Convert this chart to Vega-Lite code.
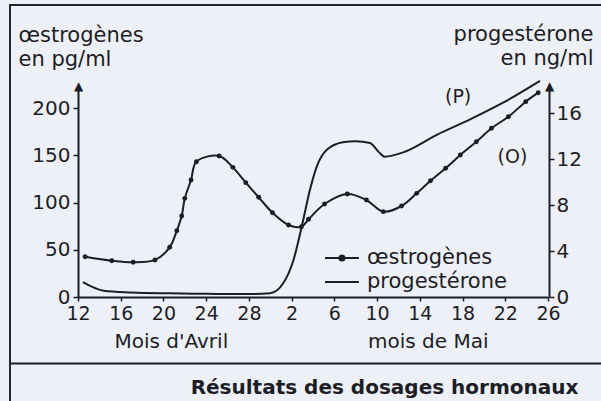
{
  "$schema": "https://vega.github.io/schema/vega-lite/v6.json",
  "width": 592,
  "height": 397,
  "autosize": {"type": "none"},
  "padding": {"left": 10, "top": 5, "right": -1, "bottom": -1},
  "background": "#edf0f6",
  "datasets": {
    "oestrogenes": [
      {"date": "2024-04-12T16:00Z", "pg_ml": 42.6},
      {"date": "2024-04-15T04:00Z", "pg_ml": 38.4},
      {"date": "2024-04-17T04:00Z", "pg_ml": 36.7},
      {"date": "2024-04-19T05:00Z", "pg_ml": 39.2},
      {"date": "2024-04-20T14:00Z", "pg_ml": 52.6},
      {"date": "2024-04-21T06:00Z", "pg_ml": 70.2},
      {"date": "2024-04-21T17:00Z", "pg_ml": 85.7},
      {"date": "2024-04-22T00:00Z", "pg_ml": 104.4},
      {"date": "2024-04-22T14:00Z", "pg_ml": 123.8},
      {"date": "2024-04-23T02:00Z", "pg_ml": 143.2},
      {"date": "2024-04-25T05:00Z", "pg_ml": 149.2},
      {"date": "2024-04-26T12:00Z", "pg_ml": 137.2},
      {"date": "2024-04-27T17:00Z", "pg_ml": 121.0},
      {"date": "2024-04-28T22:00Z", "pg_ml": 105.5},
      {"date": "2024-04-30T05:00Z", "pg_ml": 89.2},
      {"date": "2024-05-01T17:00Z", "pg_ml": 76.2},
      {"date": "2024-05-02T22:00Z", "pg_ml": 74.4},
      {"date": "2024-05-03T14:00Z", "pg_ml": 82.2},
      {"date": "2024-05-05T02:00Z", "pg_ml": 98.4},
      {"date": "2024-05-07T05:00Z", "pg_ml": 109.0},
      {"date": "2024-05-09T00:00Z", "pg_ml": 102.6},
      {"date": "2024-05-10T14:00Z", "pg_ml": 90.3},
      {"date": "2024-05-12T07:00Z", "pg_ml": 96.3},
      {"date": "2024-05-13T17:00Z", "pg_ml": 109.7},
      {"date": "2024-05-15T00:00Z", "pg_ml": 123.0},
      {"date": "2024-05-16T10:00Z", "pg_ml": 136.2},
      {"date": "2024-05-17T19:00Z", "pg_ml": 150.3},
      {"date": "2024-05-19T07:00Z", "pg_ml": 164.3},
      {"date": "2024-05-20T17:00Z", "pg_ml": 178.5},
      {"date": "2024-05-22T07:00Z", "pg_ml": 190.8},
      {"date": "2024-05-23T22:00Z", "pg_ml": 206.7},
      {"date": "2024-05-25T02:00Z", "pg_ml": 216.2}
    ],
    "progesterone": [
      {"date": "2024-04-12T11:00Z", "ng_ml": 1.3},
      {"date": "2024-04-14T10:00Z", "ng_ml": 0.55},
      {"date": "2024-04-17T00:00Z", "ng_ml": 0.4},
      {"date": "2024-04-20T14:00Z", "ng_ml": 0.32},
      {"date": "2024-04-24T00:00Z", "ng_ml": 0.28},
      {"date": "2024-04-28T10:00Z", "ng_ml": 0.26},
      {"date": "2024-04-30T00:00Z", "ng_ml": 0.33},
      {"date": "2024-05-01T05:00Z", "ng_ml": 1.19},
      {"date": "2024-05-02T04:00Z", "ng_ml": 3.2},
      {"date": "2024-05-03T02:00Z", "ng_ml": 6.7},
      {"date": "2024-05-03T17:00Z", "ng_ml": 9.3},
      {"date": "2024-05-04T08:00Z", "ng_ml": 11.3},
      {"date": "2024-05-05T07:00Z", "ng_ml": 12.8},
      {"date": "2024-05-06T19:00Z", "ng_ml": 13.45},
      {"date": "2024-05-08T00:00Z", "ng_ml": 13.55},
      {"date": "2024-05-09T08:00Z", "ng_ml": 13.4},
      {"date": "2024-05-10T04:00Z", "ng_ml": 12.6},
      {"date": "2024-05-10T17:00Z", "ng_ml": 12.2},
      {"date": "2024-05-12T12:00Z", "ng_ml": 12.6},
      {"date": "2024-05-15T14:00Z", "ng_ml": 14.1},
      {"date": "2024-05-18T17:00Z", "ng_ml": 15.45},
      {"date": "2024-05-21T19:00Z", "ng_ml": 16.9},
      {"date": "2024-05-25T06:00Z", "ng_ml": 18.8}
    ],
    "reperes": [
      {"texte": "(P)", "date": "2024-05-17T14:00Z", "ng_ml": 17.4},
      {"texte": "(O)", "date": "2024-05-22T16:00Z", "ng_ml": 12.2}
    ]
  },
  "layer": [
    {
      "encoding": {
        "x": {
          "field": "date",
          "type": "temporal",
          "scale": {
            "type": "utc",
            "nice": false,
            "domain": [
              {"year": 2024, "month": 4, "date": 12, "utc": true},
              {"year": 2024, "month": 5, "date": 26, "utc": true}
            ],
            "rangeMin": 68,
            "rangeMax": 538
          },
          "axis": {
            "orient": "bottom",
            "offset": -105,
            "values": [
              {"year": 2024, "month": 4, "date": 12, "utc": true},
              {"year": 2024, "month": 4, "date": 16, "utc": true},
              {"year": 2024, "month": 4, "date": 20, "utc": true},
              {"year": 2024, "month": 4, "date": 24, "utc": true},
              {"year": 2024, "month": 4, "date": 28, "utc": true},
              {"year": 2024, "month": 5, "date": 2, "utc": true},
              {"year": 2024, "month": 5, "date": 6, "utc": true},
              {"year": 2024, "month": 5, "date": 10, "utc": true},
              {"year": 2024, "month": 5, "date": 14, "utc": true},
              {"year": 2024, "month": 5, "date": 18, "utc": true},
              {"year": 2024, "month": 5, "date": 22, "utc": true},
              {"year": 2024, "month": 5, "date": 26, "utc": true}
            ],
            "labelExpr": "utcFormat(datum.value, '%-d')",
            "domain": true,
            "domainWidth": 2,
            "tickSize": 4,
            "labelPadding": 3,
            "labelFontSize": 19,
            "labelOverlap": false,
            "labelFlush": false,
            "title": "Mois d'Avril\u00a0\u00a0\u00a0\u00a0\u00a0\u00a0\u00a0\u00a0\u00a0\u00a0\u00a0\u00a0\u00a0\u00a0\u00a0\u00a0\u00a0\u00a0\u00a0\u00a0\u00a0\u00a0mois de Mai",
            "titleFontSize": 20,
            "titleX": 291,
            "titleY": 50,
            "titleBaseline": "alphabetic"
          }
        },
        "y": {
          "field": "pg_ml",
          "type": "quantitative",
          "scale": {"domain": [0, 224], "nice": false, "zero": false, "rangeMin": 292, "rangeMax": 80.32},
          "axis": {
            "orient": "left",
            "offset": -68,
            "values": [0, 50, 100, 150, 200, 224],
            "labelExpr": "datum.value > 210 ? '▲' : datum.label",
            "domain": true,
            "domainWidth": 2,
            "tickSize": {"condition": {"test": "datum.value > 210", "value": 0}, "value": 5},
            "labelPadding": {"condition": {"test": "datum.value > 210", "value": 0}, "value": 3},
            "labelAlign": {"condition": {"test": "datum.value > 210", "value": "center"}, "value": "right"},
            "labelFontSize": {"condition": {"test": "datum.value > 210", "value": 12}, "value": 20},
            "labelOverlap": false,
            "labelFlush": false,
            "title": ["œstrogènes", "en pg/ml"],
            "titleAngle": 0,
            "titleAlign": "left",
            "titleBaseline": "alphabetic",
            "titleX": -60,
            "titleY": 36,
            "titleFontSize": 21,
            "titleLineHeight": 24
          }
        },
        "color": {
          "datum": "œstrogènes",
          "scale": {"domain": ["œstrogènes", "progestérone"], "range": ["#1d1d26", "#1d1d26"]},
          "legend": {
            "orient": "none",
            "legendX": 321.5,
            "legendY": 242.5,
            "title": null,
            "symbolSize": 289,
            "symbolStrokeWidth": 2,
            "labelFontSize": 21,
            "labelOffset": 14.5,
            "rowPadding": 2,
            "labelColor": "#1d1d26",
            "encode": {
              "symbols": {
                "update": {
                  "shape": {"signal": "datum.value === 'œstrogènes' ? 'M-2,0H2M-0.3,0A0.3,0.3,0,1,0,0.3,0A0.3,0.3,0,1,0,-0.3,0' : 'M-2,0H2'"},
                  "fill": {"signal": "datum.value === 'œstrogènes' ? '#1d1d26' : 'transparent'"},
                  "stroke": {"value": "#1d1d26"},
                  "opacity": {"value": 1}
                }
              }
            }
          }
        }
      },
      "layer": [
        {"data": {"name": "oestrogenes"}, "mark": {"type": "line", "interpolate": "catmull-rom", "strokeWidth": 2}},
        {"data": {"name": "oestrogenes"}, "mark": {"type": "point", "filled": true, "size": 24, "opacity": 1}}
      ]
    },
    {
      "encoding": {
        "x": {
          "field": "date",
          "type": "temporal",
          "scale": {
            "type": "utc",
            "nice": false,
            "domain": [
              {"year": 2024, "month": 4, "date": 5, "hours": 15, "minutes": 13, "utc": true},
              {"year": 2024, "month": 5, "date": 31, "hours": 1, "minutes": 18, "utc": true}
            ]
          },
          "axis": {
            "orient": "bottom",
            "offset": -39,
            "domain": true,
            "domainWidth": 2,
            "ticks": false,
            "labels": false,
            "title": "Résultats des dosages hormonaux",
            "titleFontSize": 20,
            "titleFontWeight": "bold",
            "titleX": 374,
            "titleY": 30,
            "titleBaseline": "alphabetic"
          }
        },
        "y": {
          "field": "ng_ml",
          "type": "quantitative",
          "scale": {"domain": [0, 18.41], "nice": false, "zero": false, "rangeMin": 292, "rangeMax": 80.32},
          "axis": {
            "orient": "right",
            "offset": -53,
            "values": [0, 4, 8, 12, 16, 18.41],
            "labelExpr": "datum.value > 17.5 ? '▲' : datum.label",
            "domain": true,
            "domainWidth": 2,
            "tickSize": {"condition": {"test": "datum.value > 17.5", "value": 0}, "value": 5},
            "labelPadding": {"condition": {"test": "datum.value > 17.5", "value": 0}, "value": 2},
            "labelAlign": {"condition": {"test": "datum.value > 17.5", "value": "center"}, "value": "left"},
            "labelFontSize": {"condition": {"test": "datum.value > 17.5", "value": 12}, "value": 20},
            "labelOverlap": false,
            "labelFlush": false,
            "title": ["progestérone", "en ng/ml"],
            "titleAngle": 0,
            "titleAlign": "right",
            "titleBaseline": "alphabetic",
            "titleX": 44,
            "titleY": 35,
            "titleFontSize": 21,
            "titleLineHeight": 24
          }
        }
      },
      "layer": [
        {
          "data": {"name": "progesterone"},
          "mark": {"type": "line", "interpolate": "monotone", "strokeWidth": 2},
          "encoding": {"color": {"datum": "progestérone"}}
        },
        {
          "data": {"name": "reperes"},
          "mark": {"type": "text", "fontSize": 19, "color": "#1d1d26"},
          "encoding": {"text": {"field": "texte"}}
        }
      ]
    }
  ],
  "resolve": {"scale": {"x": "independent", "y": "independent"}, "axis": {"x": "independent"}},
  "config": {
    "font": "DejaVu Sans",
    "view": {"stroke": "#26262e", "strokeWidth": 2},
    "axis": {
      "grid": false,
      "labelColor": "#1d1d26",
      "titleColor": "#1d1d26",
      "tickColor": "#1d1d26",
      "domainColor": "#1d1d26",
      "tickWidth": 1.5,
      "labelFont": "DejaVu Sans",
      "titleFont": "DejaVu Sans",
      "titleFontWeight": "normal"
    },
    "legend": {"labelFont": "DejaVu Sans"}
  }
}
